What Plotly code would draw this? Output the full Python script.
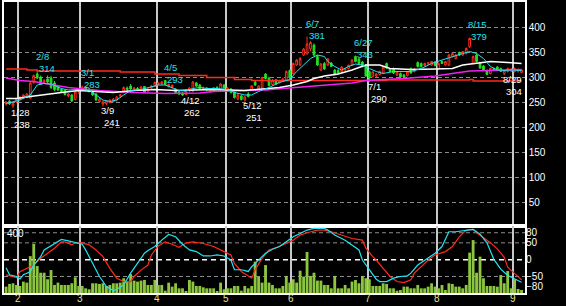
import plotly.graph_objects as go

# ---------------- data ----------------
N_DAYS = 150
DAY = list(range(N_DAYS))                      # trading-day index (1/27 .. 9/2)
MONTH_LABELS = ["2", "3", "4", "5", "6", "7", "8", "9"]
MONTH_START = [4, 22, 44, 64, 83, 105, 125, 147]   # first trading day of each month

OPEN = [246,252,242,250,255,258,259,258,289,306,
        300,290,296,298,288,281,275,273,262,264,
        255,271,274,280,276,271,266,251,246,247,
        249,251,254,262,270,278,282,276,277,275,
        281,272,278,281,285,286,293,281,279,276,
        270,268,265,272,272,288,284,275,278,271,
        272,279,275,284,273,276,270,256,262,254,
        266,274,290,276,278,306,298,285,294,288,
        292,294,313,307,324,324,344,347,356,364,
        341,314,327,324,328,314,313,311,314,317,
        324,341,336,330,324,311,301,302,305,308,
        327,316,317,304,307,304,303,317,311,329,
        327,323,326,324,330,317,331,324,324,341,
        337,349,344,347,361,327,344,329,322,313,
        307,317,320,317,307,311,312,311,312,309]
HIGH = [252,254,249,258,262,266,268,290,305,314,
        303,296,303,302,292,283,277,275,268,266,
        272,276,283,281,278,273,268,258,253,254,
        256,258,262,266,281,281,286,279,280,282,
        282,278,284,291,290,292,293,287,286,277,
        272,270,276,280,292,290,286,281,280,278,
        280,282,288,286,280,278,272,266,264,262,
        270,284,292,284,301,308,300,296,296,294,
        298,313,315,329,336,340,358,381,372,367,
        344,328,330,338,330,316,316,322,318,325,
        336,343,338,332,326,313,312,308,313,322,
        329,318,319,312,309,306,312,319,318,331,
        329,329,330,332,332,329,333,332,346,349,
        346,351,352,359,379,343,346,331,324,315,
        319,319,322,319,315,319,318,319,317,316]
LOW = [243,244,238,248,253,256,257,256,287,296,
       284,287,288,276,272,272,270,263,259,250,
       253,266,272,272,269,262,252,248,241,244,
       247,249,251,258,268,272,274,272,274,274,
       268,270,276,280,283,284,283,279,277,267,
       264,262,264,270,270,280,274,273,272,269,
       270,274,273,276,271,267,257,254,253,251,
       259,272,282,274,276,295,281,283,284,287,
       290,292,296,305,322,322,342,344,352,342,
       322,312,314,322,320,303,306,309,312,315,
       322,329,325,319,300,290,299,300,303,306,
       316,309,306,302,298,298,301,306,309,319,
       319,321,324,322,321,315,326,322,322,339,
       335,342,342,345,358,325,329,316,312,305,
       305,312,313,310,304,309,310,309,309,307]
CLOSE = [250,246,247,256,259,264,266,288,303,298,
         286,293,290,279,275,274,271,265,266,252,
         270,274,280,274,271,264,254,256,250,252,
         254,256,260,264,279,275,276,278,276,280,
         270,276,282,289,288,290,285,285,283,269,
         266,264,274,278,290,282,276,279,274,276,
         279,277,286,278,278,269,259,264,255,260,
         261,282,284,282,299,297,283,293,286,292,
         296,311,298,327,334,337,356,366,369,344,
         324,326,316,336,321,305,308,320,317,323,
         334,331,327,321,302,298,310,306,311,320,
         318,311,308,310,300,300,310,308,316,321,
         321,327,328,331,323,327,327,331,344,347,
         344,344,351,357,377,341,331,318,314,305,
         317,313,314,311,313,317,316,317,315,314]
VOLUME = [38,54,58,48,42,68,62,220,293,161,
          121,121,82,137,48,62,48,48,48,58,
          94,42,42,28,22,58,58,54,58,42,
          48,58,58,62,88,68,113,74,68,74,
          78,48,48,78,48,48,14,62,38,58,
          28,28,8,78,68,42,42,34,28,28,
          28,8,62,22,28,28,42,42,14,42,
          28,42,187,98,62,167,62,48,28,28,
          42,102,62,82,62,133,98,245,102,121,
          74,74,48,48,28,102,28,28,48,28,
          68,78,58,102,88,82,42,42,42,58,
          54,28,28,14,18,38,38,28,28,48,
          28,28,38,58,38,28,48,18,58,54,
          38,38,28,48,241,316,121,217,88,42,
          42,42,38,107,58,131,28,82,24,18]
VOLUME_MAX = 400

# moving averages (at sample days)
MA_SHORT_X = [0,4,7,9,11,13,16,18,21,24,26,28,30,32,34,36,39,41,44,46,
              48,50,52,54,56,58,61,64,66,69,71,73,76,79,82,84,86,88,90,92,
              93,95,97,99,101,103,105,107,109,112,115,117,120,123,126,129,132,134,136,138,
              140,142,144,146,149]
MA_SHORT = [247,254,264,284,287,286,277,274,275,274,264,254,251,254,264,273,275,279,284,284,
            279,273,272,277,279,277,277,275,269,264,264,271,279,289,295,311,324,337,344,341,
            331,321,314,321,326,324,317,311,307,311,311,311,317,327,334,341,347,351,347,337,
            321,314,313,314,313]
MA_MID_X = [0,3,7,12,16,21,27,31,37,43,49,55,60,69,75,79,83,87,89,92,
            96,100,104,108,111,117,124,129,132,135,140,145,149]
MA_MID = [257,257,261,266,269,273,271,269,273,275,273,274,275,273,277,279,284,291,297,302,
          306,314,324,324,317,315,316,317,324,327,331,329,327]
MA_LONG_X = [0,4,8,18,27,37,46,56,60,69,75,80,88,94,100,104,108,115,124,130,134,140,146,149]
MA_LONG = [298,293,291,279,273,269,267,268,271,273,274,277,281,284,288,293,294,297,302,308,312,313,314,315]
MA_XLONG_X = [0,6,9,33,43,50,58,66,71,110,134,135,149]
MA_XLONG = [316,314,312,310,306,303,299,295,293,294,295,292,292]

# oscillators (lower panel)
OSC_A_X = [0,1,3,4,5,7,8,10,11,13,15,16,18,20,22,23,25,27,29,31,
           32,34,36,38,40,41,43,45,47,49,51,53,55,57,59,61,63,65,66,68,
           70,71,73,75,77,79,81,83,85,87,89,92,93,95,98,100,102,103,105,107,
           108,110,112,114,116,117,119,121,123,124,126,128,130,133,135,137,139,141,143,145,
           147,149]
OSC_A = [-24,-45,-50,-57,-45,-36,-16,9,29,41,53,60,56,50,46,29,-11,-50,-80,-92,
         -88,-75,-40,-11,19,27,39,58,75,68,46,29,24,11,11,14,11,-1,-30,-30,
         -35,-21,-1,19,31,39,53,68,78,88,93,93,88,73,58,44,29,-1,-30,-58,
         -65,-65,-55,-50,-48,-40,-16,-1,14,19,39,83,83,88,90,76,50,1,-28,-47,
         -58,-67]
OSC_B_X = [0,2,3,4,6,8,10,12,14,16,17,19,20,22,24,26,28,30,32,34,
           36,37,39,41,42,44,46,48,50,52,54,57,60,63,65,66,68,71,72,74,
           76,79,81,83,85,87,90,92,94,97,100,103,104,106,107,109,111,113,115,117,
           118,120,122,124,127,129,131,133,135,136,138,140,142,144,145,147,148,149]
OSC_B = [-45,-50,-53,-36,-26,-16,4,19,34,53,53,44,50,50,44,29,9,-26,-55,-65,
         -65,-50,-31,-16,14,41,53,46,37,50,53,48,39,24,14,-11,-35,-55,-30,4,
         29,39,48,58,73,80,88,88,83,73,63,58,34,9,-1,-26,-50,-65,-68,-60,
         -40,-21,-1,14,24,39,68,88,90,80,65,50,32,7,-22,-42,-52,-60]

# labelled highs / lows
MARK_IDX = [2, 9, 22, 28, 46, 51, 69, 87, 101, 105, 134, 144]
MARK_KIND = ["low", "high", "high", "low", "high", "low", "low", "high", "high", "low", "high", "low"]
MARK_DATE = ["1/28", "2/8", "3/1", "3/9", "4/5", "4/12", "5/12", "6/7", "6/27", "7/1", "8/15", "8/29"]

PRICE_TICKS = [50, 100, 150, 200, 250, 300, 350, 400, 450]
OSC_TICKS = [80, 50, 0, -50, -80]
OSC_GRID = [80, 50, -50]

# ---------------- style ----------------
FONT = "Liberation Sans, Arial, sans-serif"
RED = "#ff2a1a"
GREEN = "#22e022"
CYAN = "#22e4f2"
MAGENTA = "#f020f0"
GRID = "#8c8c8c"
VGRID = "#c8c8c8"
YELLOW = "#e8e09a"
SPLIT = 0.2302
LABEL_SIZE = 9.5

fig = go.Figure()

fig.add_trace(go.Bar(x=DAY, y=VOLUME, xaxis="x2", yaxis="y2",
                     marker=dict(color="#8cc63f", line=dict(width=0)), hoverinfo="skip"))
fig.add_trace(go.Scatter(x=OSC_B_X, y=OSC_B, xaxis="x2", yaxis="y3", mode="lines",
                         line=dict(color=RED, width=1.2), hoverinfo="skip"))
fig.add_trace(go.Scatter(x=OSC_A_X, y=OSC_A, xaxis="x2", yaxis="y3", mode="lines",
                         line=dict(color=CYAN, width=1.2), hoverinfo="skip"))

fig.add_trace(go.Candlestick(
    x=DAY, open=OPEN, high=HIGH, low=LOW, close=CLOSE, xaxis="x", yaxis="y",
    increasing=dict(line=dict(color=RED, width=1), fillcolor="#000000"),
    decreasing=dict(line=dict(color=GREEN, width=1), fillcolor=GREEN),
    whiskerwidth=0, hoverinfo="skip"))

fig.add_trace(go.Scatter(x=MA_XLONG_X, y=MA_XLONG, mode="lines", line=dict(color=RED, width=1.5, shape="hv"),
                         xaxis="x", yaxis="y", hoverinfo="skip"))
fig.add_trace(go.Scatter(x=MA_LONG_X, y=MA_LONG, mode="lines", line=dict(color=MAGENTA, width=1.5),
                         xaxis="x", yaxis="y", hoverinfo="skip"))
fig.add_trace(go.Scatter(x=MA_MID_X, y=MA_MID, mode="lines", line=dict(color="#ffffff", width=1.5),
                         xaxis="x", yaxis="y", hoverinfo="skip"))
fig.add_trace(go.Scatter(x=MA_SHORT_X, y=MA_SHORT, mode="lines", line=dict(color=CYAN, width=1),
                         xaxis="x", yaxis="y", hoverinfo="skip"))

month_lines = [m - 0.5 for m in MONTH_START]

annotations = []
for i, kind, date in zip(MARK_IDX, MARK_KIND, MARK_DATE):
    if kind == "high":
        p = HIGH[i]
        col = CYAN
        sd, sv = 13.5, 1.5
    else:
        p = LOW[i]
        col = "#ffffff"
        sd, sv = -4, -16
    annotations.append(dict(x=i, y=p, xref="x", yref="y", text=date, showarrow=False,
                            xanchor="left", yanchor="middle", xshift=-2.5, yshift=sd, borderpad=0,
                            font=dict(family=FONT, size=LABEL_SIZE, color=col)))
    annotations.append(dict(x=i, y=p, xref="x", yref="y", text=str(p), showarrow=False,
                            xanchor="left", yanchor="middle", xshift=0.5, yshift=sv, borderpad=0,
                            font=dict(family=FONT, size=LABEL_SIZE, color=col)))
annotations.append(dict(x=0, y=VOLUME_MAX, xref="paper", yref="y2", text=str(VOLUME_MAX),
                        showarrow=False, xanchor="left", yanchor="top", xshift=2, yshift=-1,
                        borderpad=0, font=dict(family=FONT, size=10, color="#ffffff")))
# month labels under the lower panel
for pos, lab in zip(month_lines, MONTH_LABELS):
    annotations.append(dict(x=pos, y=0, xref="x2", yref="paper", text=lab, showarrow=False,
                            xanchor="center", yanchor="middle", yshift=-5.5, borderpad=0,
                            font=dict(family=FONT, size=10, color=YELLOW)))

shapes = []
for v in OSC_GRID:
    shapes.append(dict(type="line", xref="paper", x0=0, x1=1, yref="y3", y0=v, y1=v,
                       line=dict(color=GRID, width=1, dash="4px,3px"), layer="below"))
shapes.append(dict(type="line", xref="paper", x0=0, x1=1, yref="y3", y0=0, y1=0,
                   line=dict(color="#ffffff", width=1.5, dash="5px,4px"), layer="below"))

common_x = dict(range=[-0.6, 150.0], tickvals=month_lines, showgrid=True, gridcolor=VGRID,
                gridwidth=1.5, zeroline=False, showline=True, linecolor="#ffffff", linewidth=1.5,
                mirror=True, ticks="", automargin=False, fixedrange=True, showticklabels=False)

fig.update_layout(
    width=566, height=306,
    margin=dict(l=4, r=41, t=2, b=13, pad=0),
    paper_bgcolor="#000000", plot_bgcolor="#000000",
    showlegend=False, bargap=0.18,
    font=dict(family=FONT, size=10, color="#ffffff"),
    xaxis=dict(common_x, domain=[0, 1], anchor="y", rangeslider=dict(visible=False)),
    yaxis=dict(domain=[SPLIT, 1], range=[2, 450], side="right", tickvals=PRICE_TICKS,
               showgrid=True, gridcolor=GRID, griddash="4px,3px", gridwidth=1,
               zeroline=False, showline=True, linecolor="#ffffff", linewidth=1.5, mirror=True,
               ticks="", tickfont=dict(family=FONT, size=10, color="#ffffff"),
               automargin=False, fixedrange=True),
    xaxis2=dict(common_x, domain=[0, 1], anchor="y2", matches="x"),
    yaxis2=dict(domain=[0, SPLIT], range=[0, VOLUME_MAX], anchor="x2", side="right",
                showticklabels=False, showgrid=False, zeroline=False, showline=True,
                linecolor="#ffffff", linewidth=1.5, mirror=True, ticks="",
                automargin=False, fixedrange=True),
    yaxis3=dict(overlaying="y2", anchor="x2", side="right", range=[-99, 100],
                tickvals=OSC_TICKS, showgrid=False, zeroline=False, showline=False, ticks="",
                tickfont=dict(family=FONT, size=10, color="#ffffff"),
                automargin=False, fixedrange=True),
    annotations=annotations,
    shapes=shapes,
)

fig.write_html("out.html")
